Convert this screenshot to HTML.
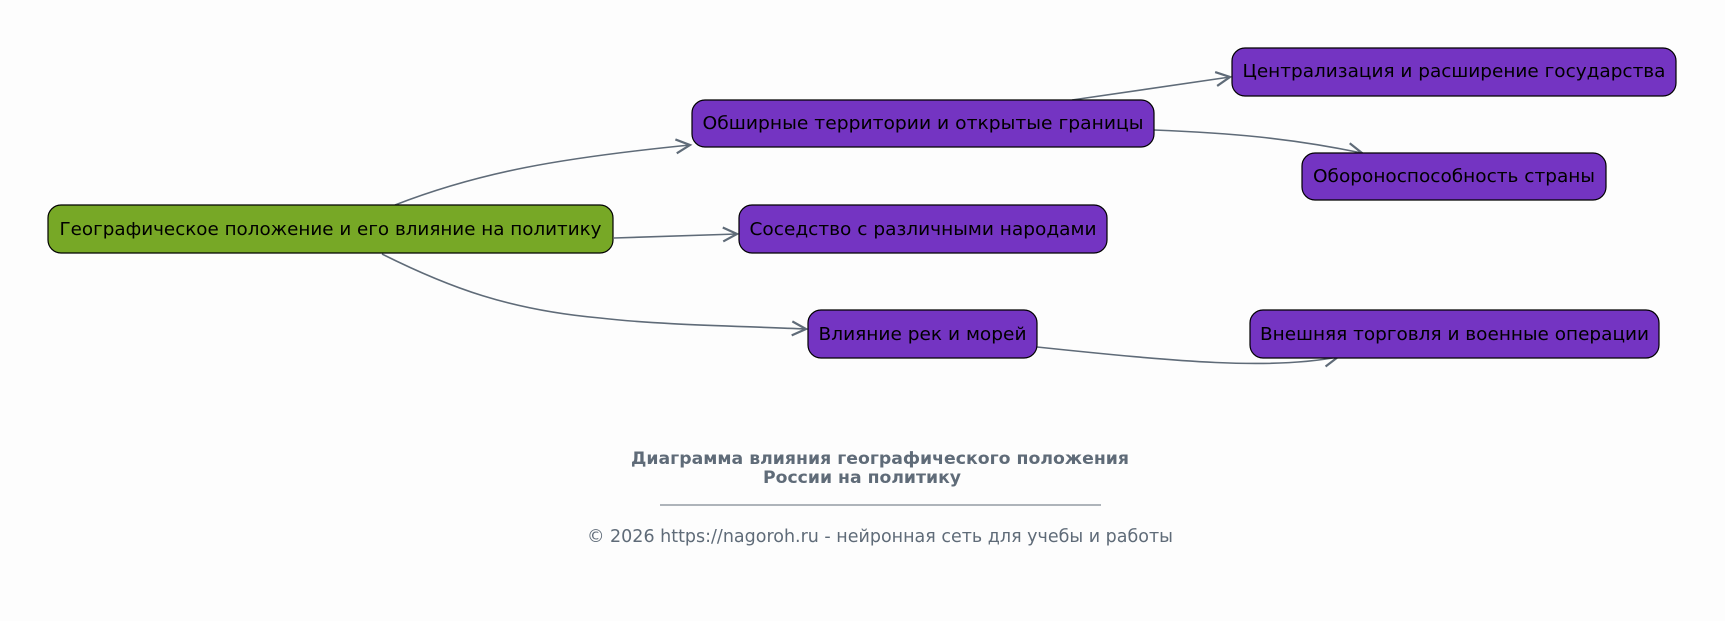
<!DOCTYPE html>
<html><head><meta charset="utf-8"><style>
html,body{margin:0;padding:0;background:#fdfdfd;}
svg{display:block;}
text{font-family:"DejaVu Sans","Liberation Sans",sans-serif;}
</style></head><body>
<svg width="1725" height="621" viewBox="0 0 1725 621" xmlns="http://www.w3.org/2000/svg">
<defs>
<marker id="a" markerWidth="18" markerHeight="16" refX="15" refY="8" orient="auto" markerUnits="userSpaceOnUse">
<path d="M1,1 L15,8 L1,15" fill="none" stroke="#5f6b78" stroke-width="2.2"/>
</marker>
</defs>
<rect width="1725" height="621" fill="#fdfdfd"/>
<g fill="none" stroke="#5f6b78" stroke-width="1.6" marker-end="url(#a)">
<path d="M395,205 C480,172 560,158 690,145"/>
<path d="M614,238 L737,234"/>
<path d="M382,254 C450,288 510,310 600,318 C660,325 740,326 806,329"/>
<path d="M1072,100 L1230,77"/>
<path d="M1154,130 C1230,133 1290,138 1362,153"/>
<path d="M1037,347 C1180,362 1270,370 1338,357"/>
</g>
<g stroke="#000" stroke-width="1.2">
<rect x="48" y="205" width="565" height="48" rx="13" fill="#77a826"/>
<rect x="692" y="100" width="462" height="47" rx="13" fill="#7434c2"/>
<rect x="1232" y="48" width="444" height="48" rx="13" fill="#7434c2"/>
<rect x="1302" y="153" width="304" height="47" rx="13" fill="#7434c2"/>
<rect x="739" y="205" width="368" height="48" rx="13" fill="#7434c2"/>
<rect x="808" y="310" width="229" height="48" rx="13" fill="#7434c2"/>
<rect x="1250" y="310" width="409" height="48" rx="13" fill="#7434c2"/>
</g>
<g font-size="18" fill="#000" text-anchor="middle">
<text x="330.5" y="235" textLength="542" lengthAdjust="spacingAndGlyphs">Географическое положение и его влияние на политику</text>
<text x="923" y="129" textLength="441" lengthAdjust="spacingAndGlyphs">Обширные территории и открытые границы</text>
<text x="1454" y="77" textLength="423" lengthAdjust="spacingAndGlyphs">Централизация и расширение государства</text>
<text x="1454" y="182" textLength="282" lengthAdjust="spacingAndGlyphs">Обороноспособность страны</text>
<text x="923" y="235" textLength="347" lengthAdjust="spacingAndGlyphs">Соседство с различными народами</text>
<text x="922.5" y="340" textLength="208" lengthAdjust="spacingAndGlyphs">Влияние рек и морей</text>
<text x="1454.5" y="340" textLength="389" lengthAdjust="spacingAndGlyphs">Внешняя торговля и военные операции</text>
</g>
<g fill="#5f6b78" text-anchor="middle">
<text x="880" y="464" font-size="17" font-weight="bold" textLength="498" lengthAdjust="spacingAndGlyphs">Диаграмма влияния географического положения</text>
<text x="862" y="483" font-size="17" font-weight="bold" textLength="198" lengthAdjust="spacingAndGlyphs">России на политику</text>
<line x1="660" y1="505" x2="1101" y2="505" stroke="#5f6b78" stroke-width="1"/>
<text x="880" y="542" font-size="17.5" textLength="586" lengthAdjust="spacingAndGlyphs">© 2026 https://nagoroh.ru - нейронная сеть для учебы и работы</text>
</g>
</svg>
</body></html>
